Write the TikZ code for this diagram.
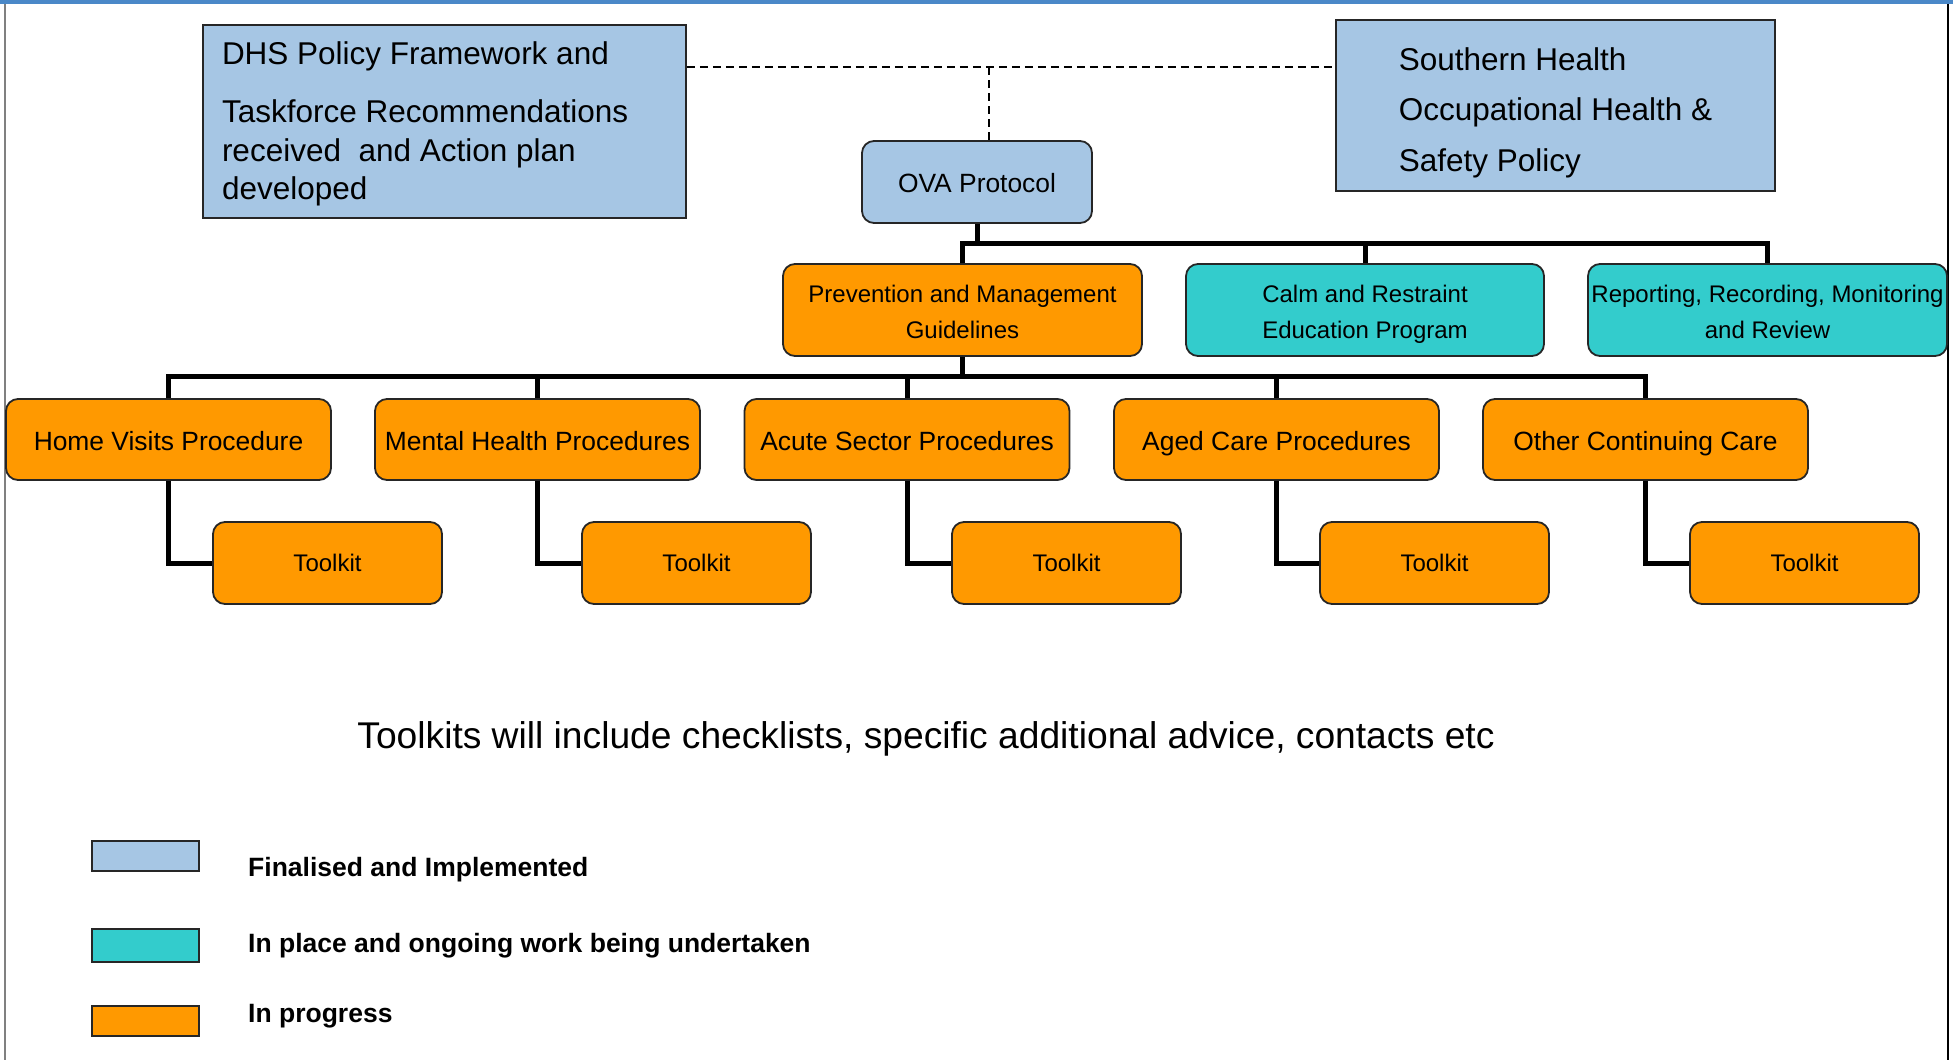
\documentclass[tikz,border=0pt]{standalone}
\usepackage{fontspec}
\setmainfont{Liberation Sans}
\definecolor{cblue}{HTML}{A6C6E4}
\definecolor{cteal}{HTML}{33CCCC}
\definecolor{corange}{HTML}{FF9900}
\definecolor{topblue}{HTML}{4A88C8}
\newcommand{\lowerby}[2]{\raisebox{-#1}[\height][\depth]{#2}}
\begin{document}
\begin{tikzpicture}[x=1pt,y=-1pt,
  base/.style={draw=black!85, line width=1.8pt, inner sep=0pt, text=black},
  sqbox/.style={base, fill=cblue},
  rbox/.style={base, rounded corners=12pt},
  procbox/.style={rbox, fill=corange, minimum width=325pt, minimum height=81pt,
    text height=24.5pt, text depth=2.6pt, font=\fontsize{26.4}{30}\selectfont},
  toolbox/.style={rbox, fill=corange, minimum width=229pt, minimum height=82pt,
    text height=19.6pt, text depth=2.4pt, font=\fontsize{24}{28}\selectfont},
  midbox/.style={rbox, minimum height=92pt, font=\fontsize{24}{36}\selectfont},
  legbox/.style={draw=black!85, line width=1.5pt, minimum width=107pt, inner sep=0pt},
  legtext/.style={anchor=west, inner sep=0pt, text height=21.6pt, text depth=2.6pt,
    font=\bfseries\fontsize{26.5}{30}\selectfont},
  conn/.style={line width=5pt, black, line join=miter},
  dashline/.style={line width=1.6pt, black, dash pattern=on 8pt off 5pt}
]
\useasboundingbox (0,0) rectangle (1953,1060);
\fill[white] (0,0) rectangle (1953,1060);
\fill[topblue] (0,0) rectangle (1953,4);
\draw[gray, line width=1.5pt] (5,4) -- (5,1060);
\draw[black, line width=2pt] (1948,4) -- (1948,1060);

% top boxes
\node[sqbox, minimum width=483pt, minimum height=193pt,
  font=\fontsize{31.5}{38.5}\selectfont] (dhs) at (444.5,121.5)
  {\lowerby{3pt}{\begin{tabular}{@{}p{445pt}@{}}DHS Policy Framework and\\[19.5pt] Taskforce Recommendations\\ received\ \ and Action plan\\ developed\end{tabular}}};
\node[sqbox, minimum width=439pt, minimum height=171pt,
  font=\fontsize{31.5}{50.5}\selectfont] (sh) at (1555.5,105.5)
  {\lowerby{5pt}{\begin{tabular}{@{}l@{}}Southern Health\\ Occupational Health \&\\ Safety Policy\end{tabular}}};
\node[rbox, fill=cblue, minimum width=230pt, minimum height=82pt,
  text height=23.5pt, text depth=2.6pt,
  font=\fontsize{26.4}{30}\selectfont] (ova) at (977,182) {OVA Protocol};

% dashed links
\coordinate (dj) at (989,67);
\draw[dashline] (dhs.east |- dj) -- (sh.west |- dj);
\draw[dashline] (dj) -- (dj |- ova.north);

% second row
\node[midbox, fill=corange, minimum width=359pt] (pm) at (962.5,310)
  {\lowerby{3.5pt}{\begin{tabular}{@{}c@{}}Prevention and Management\\ Guidelines\end{tabular}}};
\node[midbox, fill=cteal, minimum width=358pt] (cr) at (1365,310)
  {\lowerby{3.5pt}{\begin{tabular}{@{}c@{}}Calm and Restraint\\ Education Program\end{tabular}}};
\node[midbox, fill=cteal, minimum width=359pt] (rr) at (1767.5,310)
  {\lowerby{3.5pt}{\begin{tabular}{@{}c@{}}Reporting, Recording, Monitoring\\ and Review\end{tabular}}};

% third row
\node[procbox] (home) at (168.5,439.5) {Home Visits Procedure};
\node[procbox] (mental) at (537.5,439.5) {Mental Health Procedures};
\node[procbox] (acute) at (907,439.5) {Acute Sector Procedures};
\node[procbox] (aged) at (1276.5,439.5) {Aged Care Procedures};
\node[procbox] (other) at (1645.5,439.5) {Other Continuing Care};

% toolkits
\node[toolbox] (tk1) at (327.5,563) {Toolkit};
\node[toolbox] (tk2) at (696.5,563) {Toolkit};
\node[toolbox] (tk3) at (1066.5,563) {Toolkit};
\node[toolbox] (tk4) at (1434.5,563) {Toolkit};
\node[toolbox] (tk5) at (1804.5,563) {Toolkit};

% connectors
\coordinate (bus1) at (962.5,243);
\draw[conn] (ova.south) -- (ova.south |- bus1);
\draw[conn] (pm.north) -- (pm.north |- bus1) -| (rr.north);
\draw[conn] (cr.north) -- (cr.north |- bus1);

\coordinate (bus2) at (962.5,376);
\draw[conn] (pm.south) -- (pm.south |- bus2);
\draw[conn] (home.north) -- (home.north |- bus2) -| (other.north);
\draw[conn] (mental.north) -- (mental.north |- bus2);
\draw[conn] (acute.north) -- (acute.north |- bus2);
\draw[conn] (aged.north) -- (aged.north |- bus2);

\draw[conn] (home.south) |- (tk1.west);
\draw[conn] (mental.south) |- (tk2.west);
\draw[conn] (acute.south) |- (tk3.west);
\draw[conn] (aged.south) |- (tk4.west);
\draw[conn] (other.south) |- (tk5.west);

% note
\node[inner sep=0pt, text height=30pt, text depth=3.4pt,
  font=\fontsize{37.2}{44}\selectfont] (note) at (926,735)
  {Toolkits will include checklists, specific additional advice, contacts etc};

% legend
\node[legbox, fill=cblue, minimum height=30pt] (lg1) at (145.5,856) {};
\node[legtext] (lt1) at (248,867) {Finalised and Implemented};
\node[legbox, fill=cteal, minimum height=33pt] (lg2) at (145.5,945.5) {};
\node[legtext] (lt2) at (248,943) {In place and ongoing work being undertaken};
\node[legbox, fill=corange, minimum height=30pt] (lg3) at (145.5,1021) {};
\node[legtext] (lt3) at (248,1013) {In progress};
\end{tikzpicture}
\end{document}
